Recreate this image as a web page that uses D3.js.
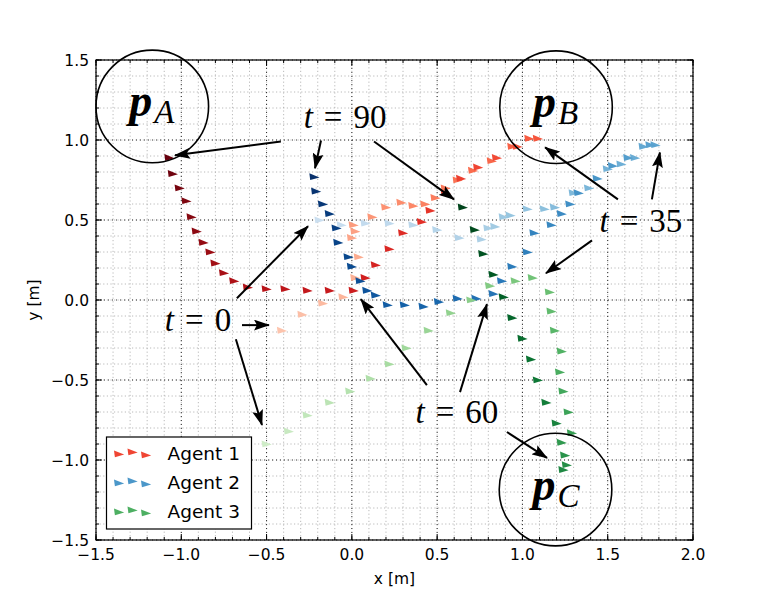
<!DOCTYPE html>
<html>
<head>
<meta charset="utf-8">
<script src="https://cdn.jsdelivr.net/npm/d3@7"></script>
<style>
  html, body { margin: 0; padding: 0; background: #ffffff; }
  svg { display: block; }
  .tick-label { font-family: "DejaVu Sans", sans-serif; font-size: 15.5px; fill: #000; }
  .axis-label { font-family: "DejaVu Sans", sans-serif; font-size: 15.5px; fill: #000; }
  .legend-label { font-family: "DejaVu Sans", sans-serif; font-size: 18.5px; fill: #000; }
  .math { font-family: "Liberation Serif", "DejaVu Serif", serif; fill: #000; }
</style>
</head>
<body>
<svg id="chart" width="771" height="601"></svg>
<script>
// ---------------- data ----------------
const xTickValues = [-1.5, -1.0, -0.5, 0.0, 0.5, 1.0, 1.5, 2.0];
const yTickValues = [-1.5, -1.0, -0.5, 0.0, 0.5, 1.0, 1.5];
const agentNames = ["Agent 1", "Agent 2", "Agent 3"];

// Agent 1 trajectory (x, y) in metres, ordered in time (t = 0 ... 90)
const agent1X = [-0.41, -0.29, -0.17, -0.05, 0.02, 0.04, 0.00, 0.02, 0.01, 0.12, 0.20, 0.29, 0.36, 0.43, 0.49, 0.55, 0.62, 0.71, 0.82, 0.94, 1.04, 1.09,
                 0.97, 0.85, 0.74, 0.64, 0.55, 0.46, 0.41, 0.30, 0.22, 0.14, 0.08, 0.01,
                 -0.13, -0.26, -0.39, -0.50, -0.61, -0.69, -0.75, -0.80, -0.83, -0.87, -0.91, -0.94, -0.97, -1.01, -1.05, -1.07];
const agent1Y = [-0.19, -0.09, -0.02, 0.02, 0.14, 0.27, 0.39, 0.43, 0.47, 0.52, 0.58, 0.61, 0.59, 0.60, 0.64, 0.70, 0.75, 0.81, 0.87, 0.96, 1.01, 1.01,
                 0.96, 0.89, 0.83, 0.76, 0.67, 0.56, 0.49, 0.42, 0.32, 0.22, 0.14, 0.06,
                 0.06, 0.06, 0.07, 0.07, 0.08, 0.12, 0.17, 0.23, 0.30, 0.36, 0.43, 0.52, 0.62, 0.70, 0.79, 0.89];

// Agent 2 trajectory
const agent2X = [-0.19, -0.06, 0.08, 0.22, 0.36, 0.50, 0.63, 0.76, 0.80, 0.84, 0.89, 0.93, 1.03, 1.13, 1.19, 1.30, 1.39, 1.50, 1.58, 1.66, 1.71, 1.78,
                 1.75, 1.62, 1.53, 1.44, 1.33, 1.28, 1.23, 1.17, 1.07, 1.03, 0.94, 0.88, 0.83,
                 0.73, 0.62, 0.51, 0.42, 0.31, 0.21, 0.14, 0.09, 0.05, 0.00, -0.02, -0.08, -0.09, -0.13, -0.17, -0.21, -0.22];
const agent2Y = [0.50, 0.47, 0.48, 0.48, 0.47, 0.44, 0.39, 0.38, 0.45, 0.46, 0.52, 0.53, 0.57, 0.57, 0.58, 0.67, 0.70, 0.82, 0.85, 0.89, 0.96, 0.97,
                 0.97, 0.89, 0.84, 0.76, 0.67, 0.60, 0.54, 0.47, 0.42, 0.30, 0.21, 0.12, 0.04,
                 0.01, 0.01, -0.01, -0.04, -0.03, -0.03, 0.03, 0.06, 0.12, 0.21, 0.27, 0.36, 0.45, 0.54, 0.60, 0.68, 0.77];

// Agent 3 trajectory
const agent3X = [-0.50, -0.37, -0.26, -0.13, -0.01, 0.11, 0.22, 0.32, 0.45, 0.58, 0.70, 0.81, 0.96, 1.06,
                 1.16, 1.17, 1.19, 1.23, 1.22, 1.24, 1.27, 1.29, 1.23, 1.25, 1.26, 1.24,
                 1.20, 1.14, 1.09, 1.05, 1.00, 0.94, 0.89, 0.83, 0.77, 0.72, 0.65];
const agent3Y = [-0.90, -0.82, -0.72, -0.64, -0.57, -0.49, -0.40, -0.30, -0.19, -0.08, 0.00, 0.09, 0.12, 0.14,
                 0.05, -0.07, -0.19, -0.32, -0.45, -0.57, -0.70, -0.83, -0.89, -0.97, -1.03, -1.06,
                 -0.77, -0.64, -0.50, -0.37, -0.24, -0.11, 0.02, 0.16, 0.29, 0.44, 0.58];

// goal regions
const goalNames = ["A", "B", "C"];
const goalX = [-1.17, 1.197, 1.194];
const goalY = [1.21, 1.205, -1.185];
const goalRadius = 0.33;

// time annotations: label, text anchor (x, y), arrow tails and heads
const annotLabels = ["90", "35", "0", "60"];
const annotTextX = [-0.04, 1.695, -0.902, 0.616];
const annotTextY = [1.072, 0.423, -0.195, -0.769];
const arrowGroup = [0, 0, 0, 1, 1, 1, 2, 2, 2, 3, 3, 3];
const arrowFromX = [-0.416, -0.181, 0.130, 1.560, 1.759, 1.408, -0.674, -0.644, -0.680, 0.440, 0.634, 0.909];
const arrowFromY = [0.991, 0.997, 0.991, 0.629, 0.629, 0.373, 0.011, -0.157, -0.245, -0.532, -0.576, -0.825];
const arrowToX = [-1.037, -0.216, 0.599, 1.133, 1.806, 1.138, -0.257, -0.486, -0.527, 0.053, 0.792, 1.144];
const arrowToY = [0.904, 0.823, 0.629, 0.954, 0.922, 0.167, 0.461, -0.157, -0.781, 0.005, -0.026, -0.987];

// ---------------- chart ----------------
const W = 771, H = 601;
const margin = { top: 60, right: 78, bottom: 61, left: 96 };
const svg = d3.select("#chart");

const x = d3.scaleLinear().domain([-1.5, 2.0]).range([margin.left, W - margin.right]);
const y = d3.scaleLinear().domain([-1.5, 1.5]).range([H - margin.bottom, margin.top]);

const x0 = margin.left, x1 = W - margin.right, y0 = margin.top, y1 = H - margin.bottom;

svg.append("rect").attr("x", 0).attr("y", 0).attr("width", W).attr("height", H).attr("fill", "#fff");

const defs = svg.append("defs");
defs.append("clipPath").attr("id", "plotclip").append("rect")
  .attr("x", x0).attr("y", y0).attr("width", x1 - x0).attr("height", y1 - y0);
defs.append("marker")
  .attr("id", "arrowhead")
  .attr("viewBox", "0 0 16 11")
  .attr("refX", 15).attr("refY", 5.5)
  .attr("markerWidth", 16).attr("markerHeight", 11)
  .attr("markerUnits", "userSpaceOnUse")
  .attr("orient", "auto")
  .append("path").attr("d", "M0,0 L16,5.5 L0,11 L3,5.5 Z").attr("fill", "#000");

const xMinor = x.ticks(35);
const yMinor = y.ticks(30);

// minor grid
const grid = svg.append("g");
grid.selectAll(".vminor").data(xMinor).join("line")
  .attr("x1", d => x(d)).attr("x2", d => x(d)).attr("y1", y0).attr("y2", y1)
  .attr("stroke", "#a8a8a8").attr("stroke-width", 0.8).attr("stroke-dasharray", "1.2,2.4");
grid.selectAll(".hminor").data(yMinor).join("line")
  .attr("y1", d => y(d)).attr("y2", d => y(d)).attr("x1", x0).attr("x2", x1)
  .attr("stroke", "#a8a8a8").attr("stroke-width", 0.8).attr("stroke-dasharray", "1.2,2.4");
// major grid
grid.selectAll(".vmajor").data(xTickValues).join("line")
  .attr("x1", d => x(d)).attr("x2", d => x(d)).attr("y1", y0).attr("y2", y1)
  .attr("stroke", "#000").attr("stroke-width", 0.8).attr("stroke-dasharray", "1,3");
grid.selectAll(".hmajor").data(yTickValues).join("line")
  .attr("y1", d => y(d)).attr("y2", d => y(d)).attr("x1", x0).attr("x2", x1)
  .attr("stroke", "#000").attr("stroke-width", 0.8).attr("stroke-dasharray", "1,3");

// trajectories
const agents = [
  { xs: agent1X, ys: agent1Y, cmap: d3.interpolateReds },
  { xs: agent2X, ys: agent2Y, cmap: d3.interpolateBlues },
  { xs: agent3X, ys: agent3Y, cmap: d3.interpolateGreens }
];
// right-pointing dart-like triangle
const markerPath = "M-5,-3.6 L5.2,0.6 L-4.1,3.3 Z";
const plot = svg.append("g").attr("clip-path", "url(#plotclip)");

agents.forEach(a => {
  const n = a.xs.length;
  const pts = a.xs.map((v, i) => ({ px: x(v), py: y(a.ys[i]), col: a.cmap(0.22 + 0.78 * i / (n - 1)) }));
  plot.append("g").selectAll("path").data(pts).join("path")
    .attr("d", markerPath)
    .attr("transform", d => `translate(${d.px},${d.py})`)
    .attr("fill", d => d.col);
});

// goal circles
const goals = goalNames.map((g, i) => ({ name: g, gx: goalX[i], gy: goalY[i] }));
const rPx = x(goalRadius) - x(0);
const gg = svg.append("g");
gg.selectAll("circle").data(goals).join("circle")
  .attr("cx", d => x(d.gx)).attr("cy", d => y(d.gy)).attr("r", rPx)
  .attr("fill", "none").attr("stroke", "#000").attr("stroke-width", 1.6);
goals.forEach(d => {
  const t = gg.append("text").attr("class", "math")
    .attr("x", x(d.gx) - 23).attr("y", y(d.gy) + 10);
  t.append("tspan").attr("font-weight", "bold").attr("font-style", "italic").attr("font-size", 46).text("p");
  t.append("tspan").attr("font-style", "italic").attr("font-size", 33).attr("dx", 2).attr("dy", 7).text(d.name);
});

// arrows
const arrows = arrowGroup.map((g, i) => ({ g, fx: arrowFromX[i], fy: arrowFromY[i], tx: arrowToX[i], ty: arrowToY[i] }));
svg.append("g").selectAll("line").data(arrows).join("line")
  .attr("x1", d => x(d.fx)).attr("y1", d => y(d.fy))
  .attr("x2", d => x(d.tx)).attr("y2", d => y(d.ty))
  .attr("stroke", "#000").attr("stroke-width", 2)
  .attr("marker-end", "url(#arrowhead)");

// time labels
annotLabels.forEach((lab, i) => {
  const t = svg.append("text").attr("class", "math")
    .attr("x", x(annotTextX[i])).attr("y", y(annotTextY[i]))
    .attr("text-anchor", "middle").attr("font-size", 33);
  t.append("tspan").attr("font-style", "italic").text("t");
  t.append("tspan").attr("dx", 11).text("=");
  t.append("tspan").attr("dx", 11).text(lab);
});

// axes frame
svg.append("rect").attr("x", x0).attr("y", y0).attr("width", x1 - x0).attr("height", y1 - y0)
  .attr("fill", "none").attr("stroke", "#000").attr("stroke-width", 1.2);

// ticks (inward on all sides)
const tk = svg.append("g").attr("stroke", "#000").attr("stroke-width", 1);
xMinor.forEach(v => {
  tk.append("line").attr("x1", x(v)).attr("x2", x(v)).attr("y1", y1).attr("y2", y1 - 3);
  tk.append("line").attr("x1", x(v)).attr("x2", x(v)).attr("y1", y0).attr("y2", y0 + 3);
});
yMinor.forEach(v => {
  tk.append("line").attr("y1", y(v)).attr("y2", y(v)).attr("x1", x0).attr("x2", x0 + 3);
  tk.append("line").attr("y1", y(v)).attr("y2", y(v)).attr("x1", x1).attr("x2", x1 - 3);
});
xTickValues.forEach(v => {
  tk.append("line").attr("x1", x(v)).attr("x2", x(v)).attr("y1", y1).attr("y2", y1 - 6);
  tk.append("line").attr("x1", x(v)).attr("x2", x(v)).attr("y1", y0).attr("y2", y0 + 6);
});
yTickValues.forEach(v => {
  tk.append("line").attr("y1", y(v)).attr("y2", y(v)).attr("x1", x0).attr("x2", x0 + 6);
  tk.append("line").attr("y1", y(v)).attr("y2", y(v)).attr("x1", x1).attr("x2", x1 - 6);
});

const fmt = v => d3.format(".1f")(v).replace("-", "\u2212");
svg.append("g").selectAll("text").data(xTickValues).join("text")
  .attr("class", "tick-label").attr("x", d => x(d)).attr("y", y1 + 20)
  .attr("text-anchor", "middle").text(fmt);
svg.append("g").selectAll("text").data(yTickValues).join("text")
  .attr("class", "tick-label").attr("x", x0 - 7).attr("y", d => y(d) + 5.5)
  .attr("text-anchor", "end").text(fmt);

svg.append("text").attr("class", "axis-label")
  .attr("x", (x0 + x1) / 2).attr("y", y1 + 44).attr("text-anchor", "middle").text("x [m]");
svg.append("text").attr("class", "axis-label")
  .attr("transform", `translate(${x0 - 57},${(y0 + y1) / 2}) rotate(-90)`)
  .attr("text-anchor", "middle").text("y [m]");

// legend
const lg = svg.append("g").attr("transform", `translate(${x0 + 10.5},${y1 - 103})`);
lg.append("rect").attr("x", 0).attr("y", 0).attr("width", 145).attr("height", 92)
  .attr("fill", "#fff").attr("stroke", "#000").attr("stroke-width", 1.2);
const legOffsets = [[12.5, 17], [26, 15], [39.5, 18]];
agents.forEach((a, i) => {
  const row = lg.append("g").attr("transform", `translate(0,${16 + i * 29})`);
  legOffsets.forEach(o => {
    row.append("path").attr("d", markerPath)
      .attr("transform", `translate(${o[0]},${o[1] - 16})`)
      .attr("fill", a.cmap(0.6));
  });
  row.append("text").attr("class", "legend-label").attr("x", 61).attr("y", 7).text(agentNames[i]);
});
</script>
</body>
</html>
